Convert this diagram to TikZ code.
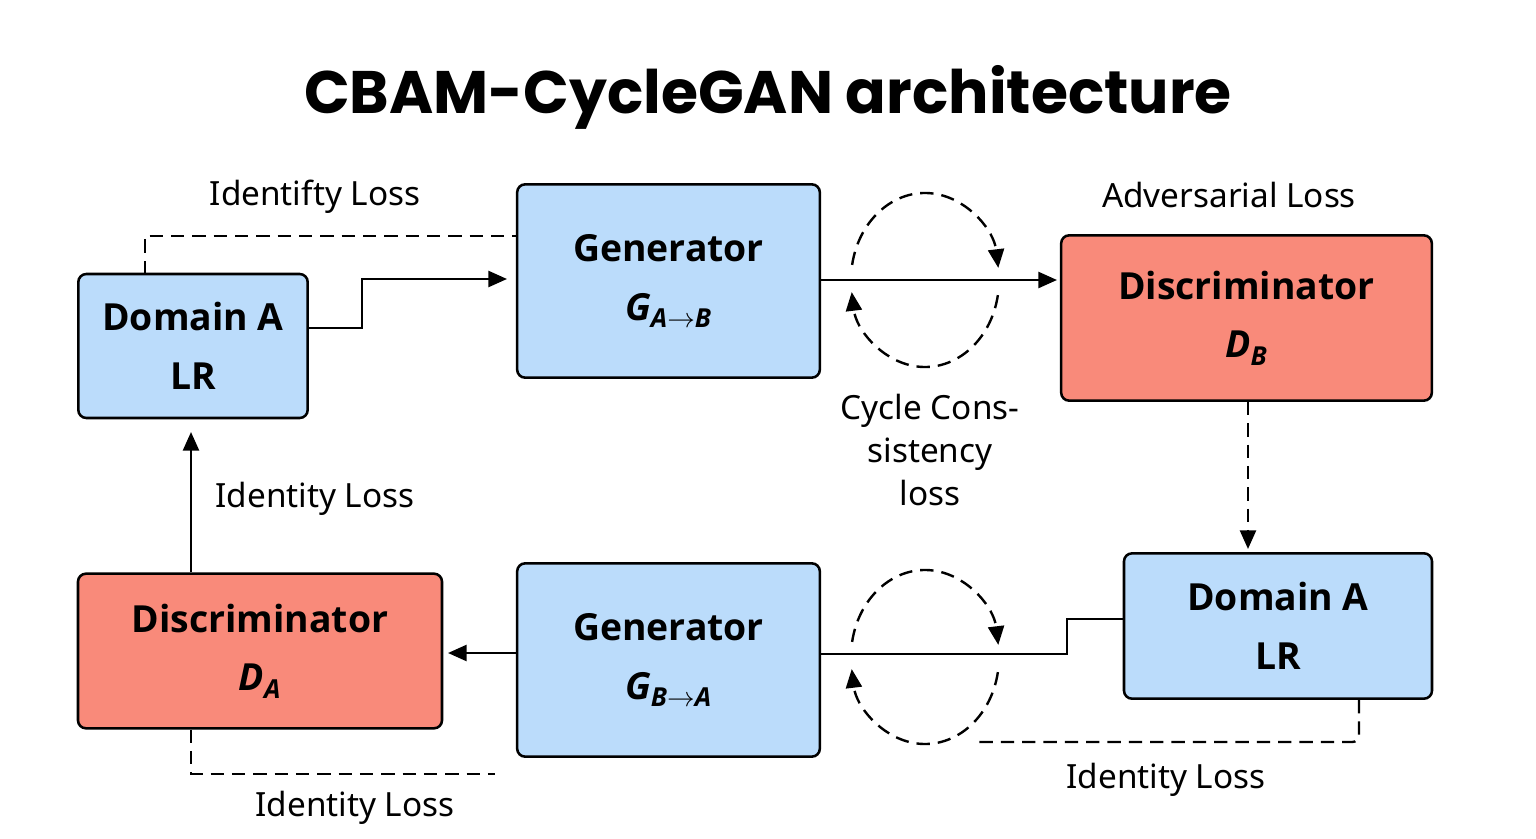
\documentclass[tikz,border=0pt]{standalone}
\usepackage{fontspec}
\setmainfont{Noto Sans}
\newfontfamily\ttlfont{Poppins}
\newfontfamily\boxfont{Open Sans}
\usetikzlibrary{arrows.meta}
\definecolor{bx}{HTML}{BBDCFB}
\definecolor{rd}{HTML}{F98A7A}
\begin{document}
\begin{tikzpicture}[x=0.75pt,y=-0.75pt,
  box/.style={draw,line width=1.9pt,rounded corners=6pt,align=center,inner sep=0pt,font=\boxfont\bfseries\fontsize{28}{44}\selectfont},
  lbl/.style={font=\fontsize{25}{32}\selectfont,align=center},
  ln/.style={line width=1.9pt},
  dsh/.style={line width=1.8pt,dash pattern=on 10pt off 6pt},
  arr/.style={-{Triangle[length=14pt,width=12pt]}}]
\useasboundingbox (0,0) rectangle (1536,839);
\node[font=\ttlfont\bfseries\fontsize{45}{50}\selectfont] (title) at (768,97) {CBAM-CycleGAN architecture};
\node[box,fill=bx,minimum width=172pt,minimum height=108pt] (da1) at (193,346) {Domain A\\LR};
\node[box,fill=bx,minimum width=227pt,minimum height=145pt] (gab) at (668.5,281) {Generator\\\textit{G}\textsubscript{\textit{A}$\rightarrow$\textit{B}}};
\node[box,fill=rd,minimum width=278pt,minimum height=124pt] (db) at (1246.5,318) {Discriminator\\\textit{D}\textsubscript{\textit{B}}};
\node[box,fill=rd,minimum width=273pt,minimum height=116pt] (dA) at (260,651) {Discriminator\\\textit{D}\textsubscript{\textit{A}}};
\node[box,fill=bx,minimum width=227pt,minimum height=145pt] (gba) at (668.5,660) {Generator\\\textit{G}\textsubscript{\textit{B}$\rightarrow$\textit{A}}};
\node[box,fill=bx,minimum width=231pt,minimum height=109pt] (da2) at (1278,626) {Domain A\\LR};
% labels
\node[lbl] (l1) at (315,197) {Identifty Loss};
\node[lbl] (l2) at (1229,195) {Adversarial Loss};
\node[lbl] (l3) at (930,450) {Cycle Cons-\\sistency\\loss};
\node[lbl] (l4) at (315,499) {Identity Loss};
\node[lbl] (l5) at (1166,780) {Identity Loss};
\node[lbl] (l6) at (355,808) {Identity Loss};
% coordinates
\coordinate (p1) at (507,279);
\coordinate (p2) at (1057,280);
\coordinate (p3) at (1248,549);
\coordinate (p4) at (448,653);
\coordinate (p5) at (191,432);
\coordinate (p6) at (975,742);
\coordinate (p7) at (495,774);
% connectors
\draw[ln,arr] (da1.east |- 0,328) -- (362,328) -- (362,279) -- (p1);
\draw[dsh] (145,274) -- (145,236) -- (gab.west |- 0,236);
\draw[ln,arr] (gab.east |- 0,280) -- (p2);
\draw[dsh,arr] (db.south -| 1248,0) -- (p3);
\draw[ln] (da2.west |- 0,619) -- (1067,619) -- (1067,654) -- (gba.east |- 0,654);
\draw[dsh,rounded corners=5pt] (da2.south -| 1359,0) -- (1359,742) -- (p6);
\draw[ln,arr] (gba.west |- 0,653) -- (p4);
\draw[ln,arr] (dA.north -| 191,0) -- (p5);
\draw[dsh] (dA.south -| 191,0) -- (191,774) -- (p7);
% cycle arcs
\foreach \cy in {280,657}{
  \draw[dsh,arr] ([shift={(190:74 and 87)}]925,\cy) arc[start angle=190,end angle=352,x radius=74,y radius=87];
  \draw[dsh,arr] ([shift={(10:74 and 87)}]925,\cy) arc[start angle=10,end angle=172,x radius=74,y radius=87];
}
\end{tikzpicture}
\end{document}
